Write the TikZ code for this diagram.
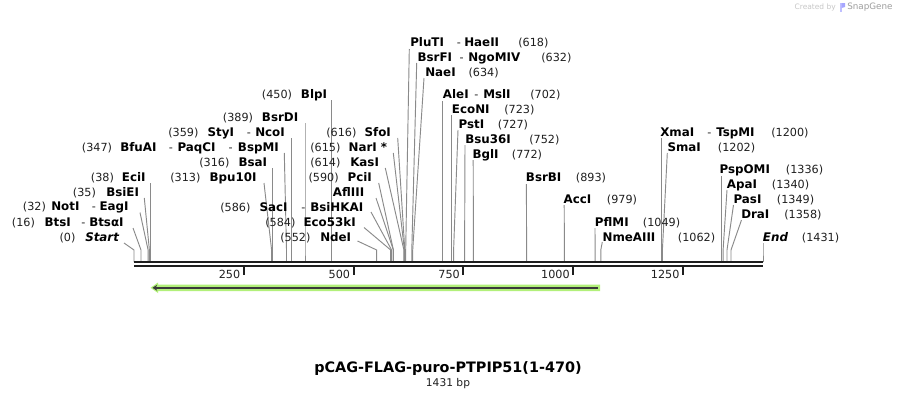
\documentclass[tikz,border=0pt]{standalone}
\usepackage{fontspec}
\setmainfont{DejaVu Sans}
\usetikzlibrary{arrows.meta}
\definecolor{cutgray}{RGB}{138,138,138}
\definecolor{axisblk}{RGB}{30,30,30}
\definecolor{featgreen}{RGB}{178,240,122}
\definecolor{featdark}{RGB}{58,58,58}
\newcommand\mylab[5]{\node[#4] (#1) at (#2,#3) {#5};}
\newcommand\mylead[3]{\draw[cutline] (#1,#2) -- (#3,250) -- (#3,262);}
\tikzset{
  cutline/.style={draw=cutgray, line width=0.7pt},
  num/.style={anchor=west, inner sep=0pt, text height=6pt, text depth=0pt, font=\fontsize{8.4}{10}\selectfont, text=black!88},
  enz/.style={num, font=\fontsize{8.9}{10}\selectfont\bfseries, text=black},
  enzi/.style={num, font=\fontsize{8.9}{10}\selectfont\bfseries\itshape, text=black},
  tick/.style={draw=axisblk, line width=1.5pt},
}
\begin{document}
\begin{tikzpicture}[x=0.75pt,y=-0.75pt]
\useasboundingbox (0,0) rectangle (897,400);
\fill[white] (0,0) rectangle (897,400);

% ---------- logo ----------
\node[anchor=east, inner sep=0pt, font=\fontsize{5.6}{6}\selectfont, text=black!22] (cb) at (836,7) {Created by};
\fill[blue!25] (839.5,3) rectangle (841.5,12);
\fill[blue!35] (841.5,3) -- (845,3) -- (845,7) -- (841.5,8) -- cycle;
\node[anchor=west, inner sep=0pt, font=\fontsize{6.6}{7}\selectfont, text=black!38] (sg) at (847,7.5) {SnapGene};

% ---------- leader lines ----------
\mylead{124}{243}{134}
\mylead{133}{228}{141}
\mylead{140}{212.5}{148.1}
\mylead{144.3}{198}{149.4}
\mylead{150.7}{183}{150.7}
\mylead{264}{183}{271.6}
\mylead{272.9}{168}{272.9}
\mylead{284.3}{153}{286.5}
\mylead{291.8}{138}{291.8}
\mylead{305}{123}{305}
\mylead{331.8}{100}{331.8}
\mylead{357.5}{241}{376.7}
\mylead{364}{227.5}{390.7}
\mylead{371}{212}{391.6}
\mylead{376}{198}{393.4}
\mylead{378.7}{183}{393.4}
\mylead{385.3}{168}{403.9}
\mylead{393.3}{153}{404.4}
\mylead{397.7}{138}{404.8}
\mylead{409.3}{49}{405.7}
\mylead{416.7}{63}{411.8}
\mylead{424}{78}{412.7}
\mylead{442.6}{101}{442.6}
\mylead{451.8}{115}{451.8}
\mylead{458}{130}{453.6}
\mylead{465}{145}{464.6}
\mylead{473.2}{160}{473.4}
\mylead{526.4}{184}{526.6}
\mylead{564.2}{205}{564.4}
\mylead{595}{228}{595.1}
\mylead{602.3}{242}{600.8}
\mylead{661.5}{138}{661.5}
\mylead{667.3}{153}{662.4}
\mylead{721.3}{176}{721.3}
\mylead{727}{190}{723.1}
\mylead{733.5}{205}{727}
\mylead{741.5}{220}{731}
\mylead{763}{243}{763}

% ---------- axis ----------
\coordinate (axL) at (134,262.2);
\coordinate (axR) at (762.7,262.2);
\coordinate (axL2) at (134,266);
\coordinate (axR2) at (762.7,266);
\draw[axisblk, line width=1.7pt] (axL) -- (axR);
\draw[axisblk, line width=1.5pt] (axL2) -- (axR2);

\draw[tick] (243.8,267) -- (243.8,275);
\draw[tick] (353.6,267) -- (353.6,275);
\draw[tick] (463.4,267) -- (463.4,275);
\draw[tick] (573.2,267) -- (573.2,275);
\draw[tick] (683,267) -- (683,275);
\mylab{t250}{240.5}{274}{num,anchor=east}{250}
\mylab{t500}{350.3}{274}{num,anchor=east}{500}
\mylab{t750}{460.1}{274}{num,anchor=east}{750}
\mylab{t1000}{569.9}{274}{num,anchor=east}{1000}
\mylab{t1250}{679.7}{274}{num,anchor=east}{1250}

% ---------- feature ----------
\fill[featgreen] (600,284.5) -- (158,284.5) -- (158,282.5) -- (150.5,287.8) -- (158,293) -- (158,291) -- (600,291) -- cycle;
\draw[featdark, line width=1.6pt, -{Stealth[length=3.5pt,width=4.5pt]}] (597.5,287.8) -- (152.5,287.8);

% ---------- left labels ----------
\mylab{n0}{59.3}{237.5}{num}{(0)}
\mylab{e0}{85}{237.5}{enzi}{Start}
\mylab{n16}{11.7}{222.2}{num}{(16)}
\mylab{e16a}{44.3}{222.2}{enz}{BtsI}
\mylab{d16}{81}{222.2}{num}{-}
\mylab{e16b}{89}{222.2}{enz}{BtsαI}
\mylab{n32}{22.7}{206.5}{num}{(32)}
\mylab{e32a}{51}{206.5}{enz}{NotI}
\mylab{d32}{91.7}{206.5}{num}{-}
\mylab{e32b}{99.3}{206.5}{enz}{EagI}
\mylab{n35}{72.7}{192}{num}{(35)}
\mylab{e35}{106}{192}{enz}{BsiEI}
\mylab{n38}{90.7}{177.5}{num}{(38)}
\mylab{e38}{121.7}{177.5}{enz}{EciI}
\mylab{n347}{81.7}{147}{num}{(347)}
\mylab{e347a}{120}{147}{enz}{BfuAI}
\mylab{d347a}{168.5}{147}{num}{-}
\mylab{e347b}{177.3}{147}{enz}{PaqCI}
\mylab{d347b}{228.3}{147}{num}{-}
\mylab{e347c}{237.7}{147}{enz}{BspMI}
\mylab{n359}{168}{132}{num}{(359)}
\mylab{e359a}{207.3}{132}{enz}{StyI}
\mylab{d359}{246.7}{132}{num}{-}
\mylab{e359b}{255}{132}{enz}{NcoI}
\mylab{n389}{222.7}{117}{num}{(389)}
\mylab{e389}{261.7}{117}{enz}{BsrDI}
\mylab{n316}{199}{162}{num}{(316)}
\mylab{e316}{238.3}{162}{enz}{BsaI}
\mylab{n313}{170}{177}{num}{(313)}
\mylab{e313}{209.3}{177}{enz}{Bpu10I}
\mylab{n450}{261.7}{94}{num}{(450)}
\mylab{e450}{300.7}{94}{enz}{BlpI}
\mylab{n586}{220}{207}{num}{(586)}
\mylab{e586a}{259.3}{207}{enz}{SacI}
\mylab{d586}{301}{207}{num}{-}
\mylab{e586b}{310}{207}{enz}{BsiHKAI}
\mylab{n584}{265}{222}{num}{(584)}
\mylab{e584}{303.3}{222}{enz}{Eco53kI}
\mylab{n552}{280}{237}{num}{(552)}
\mylab{e552}{320}{237}{enz}{NdeI}
\mylab{eafl}{332.7}{192}{enz}{AflIII}
\mylab{n590}{308.3}{177}{num}{(590)}
\mylab{e590}{347.3}{177}{enz}{PciI}
\mylab{n614}{310}{162}{num}{(614)}
\mylab{e614}{350}{162}{enz}{KasI}
\mylab{n615}{310}{147}{num}{(615)}
\mylab{e615}{348.3}{147}{enz}{NarI *}
\mylab{n616}{326}{132}{num}{(616)}
\mylab{e616}{364.3}{132}{enz}{SfoI}

% ---------- top / right labels ----------
\mylab{e618a}{410}{42}{enz}{PluTI}
\mylab{d618}{456.7}{42}{num}{-}
\mylab{e618b}{464}{42}{enz}{HaeII}
\mylab{n618}{518}{42}{num}{(618)}
\mylab{e632a}{417.3}{57}{enz}{BsrFI}
\mylab{d632}{459.3}{57}{num}{-}
\mylab{e632b}{468}{57}{enz}{NgoMIV}
\mylab{n632}{541}{57}{num}{(632)}
\mylab{e634}{425}{72}{enz}{NaeI}
\mylab{n634}{468.3}{72}{num}{(634)}
\mylab{e702a}{442.7}{94}{enz}{AleI}
\mylab{d702}{474}{94}{num}{-}
\mylab{e702b}{483}{94}{enz}{MslI}
\mylab{n702}{530}{94}{num}{(702)}
\mylab{e723}{451.7}{109}{enz}{EcoNI}
\mylab{n723}{504}{109}{num}{(723)}
\mylab{e727}{458.3}{124}{enz}{PstI}
\mylab{n727}{497.7}{124}{num}{(727)}
\mylab{e752}{465}{139}{enz}{Bsu36I}
\mylab{n752}{529}{139}{num}{(752)}
\mylab{e772}{472.3}{154}{enz}{BglI}
\mylab{n772}{511.7}{154}{num}{(772)}
\mylab{e893}{525.7}{177.5}{enz}{BsrBI}
\mylab{n893}{575.7}{177.5}{num}{(893)}
\mylab{e979}{563.3}{199}{enz}{AccI}
\mylab{n979}{606.7}{199}{num}{(979)}
\mylab{e1049}{594.7}{222}{enz}{PflMI}
\mylab{n1049}{642.7}{222}{num}{(1049)}
\mylab{e1062}{602.3}{237}{enz}{NmeAIII}
\mylab{n1062}{677.7}{237}{num}{(1062)}
\mylab{e1200a}{660}{132.5}{enz}{XmaI}
\mylab{d1200}{707}{132.5}{num}{-}
\mylab{e1200b}{716}{132.5}{enz}{TspMI}
\mylab{n1200}{771}{132.5}{num}{(1200)}
\mylab{e1202}{667.3}{147.5}{enz}{SmaI}
\mylab{n1202}{717.7}{147.5}{num}{(1202)}
\mylab{e1336}{719.3}{169.5}{enz}{PspOMI}
\mylab{n1336}{785.7}{169.5}{num}{(1336)}
\mylab{e1340}{726.7}{184.5}{enz}{ApaI}
\mylab{n1340}{771.7}{184.5}{num}{(1340)}
\mylab{e1349}{733.3}{199.5}{enz}{PasI}
\mylab{n1349}{776.7}{199.5}{num}{(1349)}
\mylab{e1358}{741}{214.5}{enz}{DraI}
\mylab{n1358}{784}{214.5}{num}{(1358)}
\mylab{eend}{762.7}{237}{enzi}{End}
\mylab{n1431}{801.7}{237}{num}{(1431)}

% ---------- title ----------
\node[inner sep=0pt, font=\fontsize{10.8}{12}\selectfont\bfseries] (title) at (448,369) {pCAG-FLAG-puro-PTPIP51(1-470)};
\node[inner sep=0pt, font=\fontsize{8}{10}\selectfont, text=black!88] (bp) at (448,384) {1431 bp};
\end{tikzpicture}
\end{document}
